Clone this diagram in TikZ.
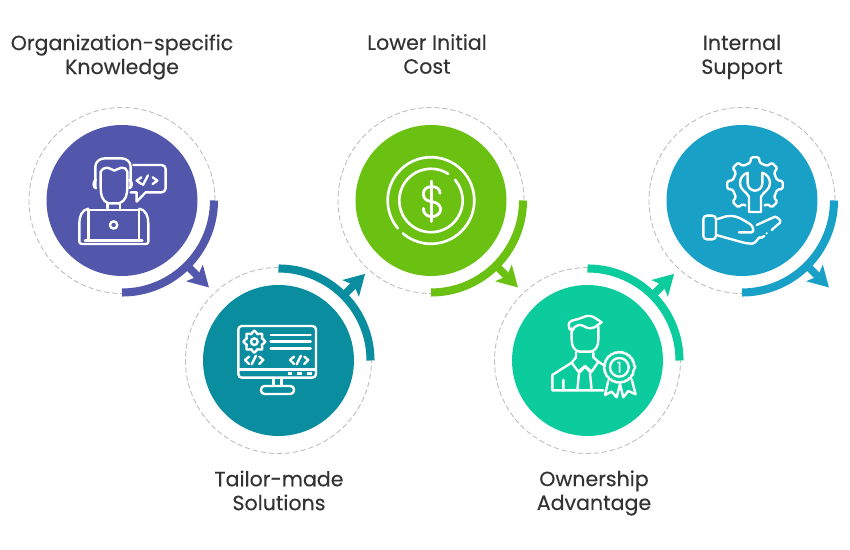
\documentclass[tikz,border=0pt]{standalone}
\usepackage{fontspec}
\setmainfont[FakeBold=0.3]{Poppins}
\usetikzlibrary{arrows.meta}
\definecolor{orgblue}{HTML}{5257AB}
\definecolor{tailorteal}{HTML}{0A8E9F}
\definecolor{costgreen}{HTML}{6AC112}
\definecolor{ownmint}{HTML}{0CCB9C}
\definecolor{supportblue}{HTML}{18A0C6}
\definecolor{labelgrey}{HTML}{333333}
\definecolor{ringgrey}{HTML}{BDBDBD}
\tikzset{
  disc/.style={circle,inner sep=0pt,minimum size=3.02cm,fill=#1},
  ringline/.style={draw=ringgrey,line width=0.5pt,dash pattern=on 3pt off 1.6pt},
  band/.style={draw=#1,line width=4.6pt},
  pointer/.style={draw=#1,line width=4.3pt,-{Stealth[length=11.5pt,width=13pt,inset=2.5pt]}},
  icon/.style={draw=white,line width=1.35pt,line cap=round,line join=round},
  zoomed/.style={x=0.006667cm,y=-0.006667cm},
  caption/.style={text=labelgrey,align=center,font=\fontsize{11.7}{13.6}\selectfont}
}
\begin{document}
\begin{tikzpicture}[x=0.02cm,y=0.02cm]
\useasboundingbox (0,0) rectangle (850,550);
%captions
\node[caption] (orgtext) at (122,493) {Organization-specific\\Knowledge};
\node[caption] (costtext) at (427,496) {Lower Initial\\Cost};
\node[caption] (supporttext) at (742,493) {Internal\\Support};
\node[caption] (tailortext) at (279,59.5) {Tailor-made\\Solutions};
\node[caption] (owntext) at (594,57) {Ownership\\Advantage};
%discs
\node[disc=orgblue] (org) at (122,349.5) {};
\node[disc=tailorteal] (tailor) at (278.5,189.5) {};
\node[disc=costgreen] (cost) at (431,349.5) {};
\node[disc=ownmint] (own) at (587.5,189.5) {};
\node[disc=supportblue] (support) at (742,349.5) {};
%dashed rings
\foreach \n in {org,tailor,cost,own,support}
  \draw[ringline] (\n.center) circle[radius=93];
%bands
\draw[band=orgblue] ([shift={(0:92)}]org.center) arc[start angle=0,end angle=-90,radius=92];
\draw[band=tailorteal] ([shift={(90:92)}]tailor.center) arc[start angle=90,end angle=0,radius=92];
\draw[band=costgreen] ([shift={(0:92)}]cost.center) arc[start angle=0,end angle=-90,radius=92];
\draw[band=ownmint] ([shift={(90:92)}]own.center) arc[start angle=90,end angle=0,radius=92];
\draw[band=supportblue] ([shift={(0:92)}]support.center) arc[start angle=0,end angle=-90,radius=92];
%pointers
\coordinate (orgtip) at ([shift={(-45:123)}]org.center);
\coordinate (tailortip) at ([shift={(45:122.5)}]tailor.center);
\coordinate (costtip) at ([shift={(-45:123)}]cost.center);
\coordinate (owntip) at ([shift={(45:122.5)}]own.center);
\coordinate (supporttip) at ([shift={(-45:123)}]support.center);
\draw[pointer=orgblue] ([shift={(-45:92)}]org.center)--(orgtip);
\draw[pointer=tailorteal] ([shift={(45:92)}]tailor.center)--(tailortip);
\draw[pointer=costgreen] ([shift={(-45:92)}]cost.center)--(costtip);
\draw[pointer=ownmint] ([shift={(45:92)}]own.center)--(owntip);
\draw[pointer=supportblue] ([shift={(-45:92)}]support.center)--(supporttip);
%icon programmer
\begin{scope}[shift={(20,450)},zoomed]
\draw[icon] (226,262)--(226,200) to[out=90,in=180] (255,175)--(305,175) to[out=0,in=90] (332,200)--(332,262);
\draw[icon] (242,215) to[out=80,in=190] (262,203) to[out=10,in=180] (283,212) to[out=0,in=170] (305,203) to[out=10,in=100] (322,215)--(322,262) to[out=-90,in=20] (298,310)--(265,310) to[out=160,in=-90] (242,262)--cycle;
\draw[icon] (228,240) to[out=190,in=170] (228,265);
\draw[icon] (328,240) to[out=-10,in=10] (328,265);
\draw[icon] (262,310)--(262,325) (300,310)--(300,325);
\draw[icon] (205,326) to[out=190,in=90] (178,370)--(178,425) to[out=-90,in=180] (186,432)--(378,432) to[out=0,in=-90] (385,425)--(385,370) to[out=90,in=-10] (358,326);
\draw[icon] (205,420)--(205,330)--(357,330)--(357,420);
\draw[icon] (195,421)--(367,421);
\draw[icon] (281,375) circle[radius=11];
\draw[icon] (340,195)--(425,195) to[out=0,in=90] (437,207)--(437,265) to[out=-90,in=0] (425,277)--(377,277)--(350,305)--(350,277)--(332,277);
\draw[icon] (364,232)--(350,242)--(364,252) (369,255)--(384,226) (398,232)--(412,242)--(398,252);
\end{scope}
%icon monitor
\begin{scope}[shift={(180,290)},zoomed]
\draw[icon,rounded corners=2pt] (175,198) rectangle (408,353);
\draw[icon] (175,328)--(408,328);
\draw[icon,line width=2pt,line cap=butt] (325,340)--(337,340) (352,340)--(365,340) (380,340)--(395,340);
\draw[icon] (280,353)--(280,378) (305,353)--(305,378);
\draw[icon,rounded corners=2pt] (243,378) rectangle (342,402);
\draw[icon] (272,225)--(392,225) (272,245)--(392,245) (272,265)--(392,265);
\begin{scope}[shift={(223,245)}]
\draw[icon,rounded corners=0.8pt] (-12:25) \foreach \a in {0,45,...,315}{ --(\a-12:25)--(\a-8:33)--(\a+8:33)--(\a+12:25) } --cycle;
\draw[icon] (0,0) circle[radius=10];
\end{scope}
\draw[icon] (207,290)--(195,300)--(207,312) (215,313)--(228,287) (238,290)--(250,300)--(238,312);
\draw[icon] (342,290)--(330,300)--(342,312) (350,313)--(363,287) (373,290)--(385,300)--(373,312);
\end{scope}
%icon coin
\draw[icon,line width=1.5pt] ([shift={(229.5:43.3)}]cost.center) arc[start angle=229.5,end angle=580,radius=43.3];
\draw[icon,line width=1.5pt] ([shift={(57:31.7)}]cost.center) arc[start angle=57,end angle=400.6,radius=31.7];
\begin{scope}[shift={(340,450)},zoomed]
\draw[icon] (275,243)--(275,365);
\draw[icon,line width=1.6pt] (300,280) .. controls (300,265) and (288,260) .. (275,260) .. controls (258,260) and (250,270) .. (250,282) .. controls (250,298) and (262,303) .. (275,305) .. controls (290,307) and (302,315) .. (302,328) .. controls (302,340) and (290,350) .. (275,350) .. controls (260,350) and (250,340) .. (250,325);
\end{scope}
%icon owner
\begin{scope}[shift={(490,290)},zoomed]
\draw[icon] (247,212) to[out=180,in=-90] (236,195) to[out=90,in=190] (262,178) to[out=10,in=190] (290,168) to[out=10,in=150] (335,187) to[out=-150,in=0] (300,205) to[out=180,in=10] (265,195) to[out=-170,in=60] (247,212);
\draw[icon] (245,205)--(245,240) to[out=-90,in=170] (268,275)--(302,275) to[out=10,in=-90] (325,240)--(325,200);
\draw[icon] (258,278)--(258,292)--(245,308)--(265,335)--(285,318)--(305,335)--(325,305)--(310,292)--(310,278);
\draw[icon] (245,308)--(187,345)--(187,391)--(340,391);
\draw[icon] (325,305)--(345,318);
\draw[icon] (220,360)--(220,391) (267,340)--(262,391) (300,340)--(305,391);
\draw[icon] (268,338)--(285,320)--(302,338);
\begin{scope}[shift={(388,322)}]
\draw[icon,rounded corners=0.6pt] (0:48) \foreach \a in {15,30,...,345}{ --(\a:43) --(\a+15:48) } --cycle;
\draw[icon] (0,0) circle[radius=28];
\node[text=white,font=\fontsize{8.5}{8.5}\selectfont] (medal) at (0,0) {1};
\end{scope}
\draw[icon] (355,362)--(345,405)--(365,395)--(380,412)--(390,372);
\draw[icon] (390,372)--(400,412)--(415,393)--(437,403)--(425,358);
\end{scope}
%icon support
\begin{scope}[shift={(645,450)},zoomed]
\begin{scope}[shift={(330,255)}]
\draw[icon,rounded corners=0.8pt] (65:68) \foreach \a in {45,0,-45,-90,-135,-180,-225}{ --(\a+12:68)--(\a+8:84)--(\a-8:84)--(\a-12:68) } --(-245:68);
\end{scope}
\draw[icon] (308,218) to[out=200,in=90] (285,250) to[out=-90,in=120] (312,290)--(312,336)--(348,336)--(348,290) to[out=60,in=-90] (375,250) to[out=90,in=-20] (352,218)--(352,250) to[out=-90,in=0] (330,272) to[out=180,in=-90] (308,250)--cycle;
\draw[icon,rounded corners=2pt] (175,347) rectangle (213,418);
\draw[icon] (213,358) to[out=10,in=180] (255,348) to[out=0,in=150] (315,372) to[out=-30,in=0] (320,397)--(282,397);
\draw[icon] (335,375)--(390,350) to[out=-20,in=60] (405,368)--(380,390);
\draw[icon] (213,405)--(285,425) to[out=-15,in=180] (322,431) to[out=0,in=140] (350,413)--(358,408);
\fill[white] (365,400) circle[radius=3.5];
\end{scope}
\end{tikzpicture}
\end{document}
